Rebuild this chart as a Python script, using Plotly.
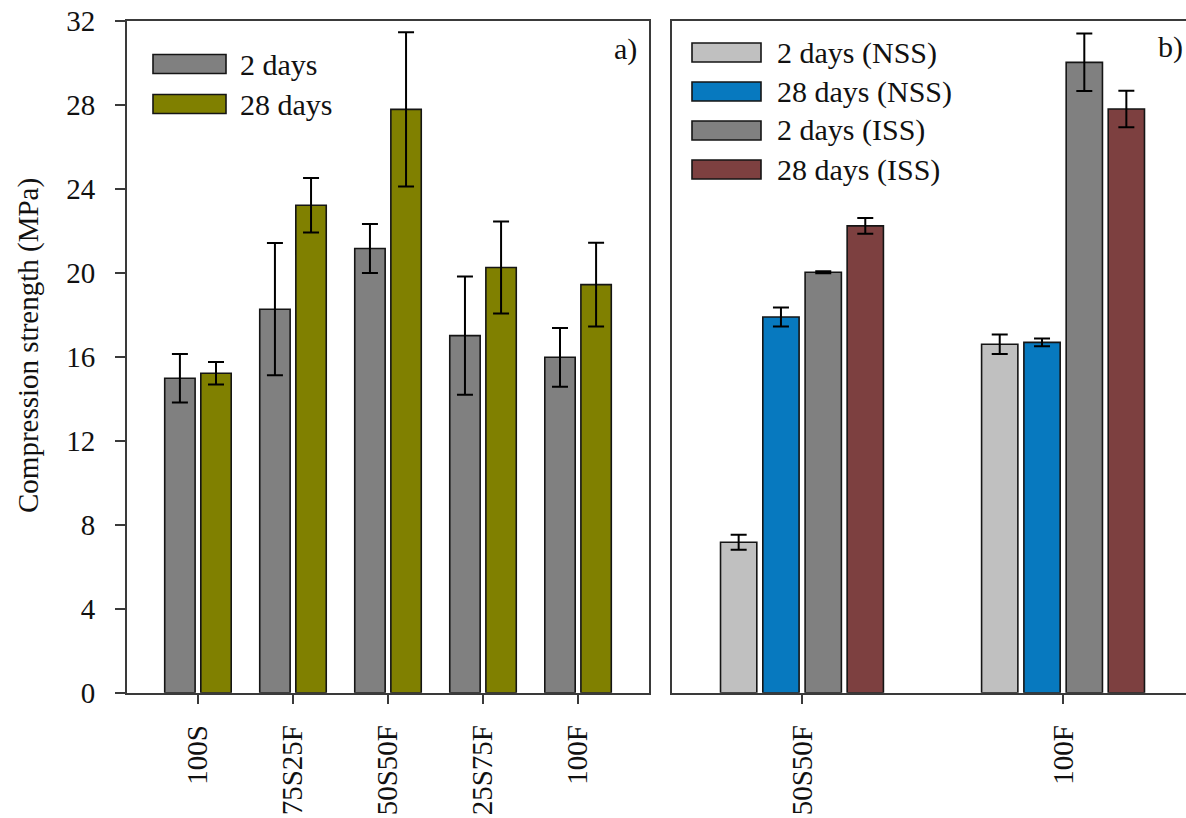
import plotly.graph_objects as go

# ---- data -------------------------------------------------------------
# panel a) : mixes cured 2 and 28 days
mixes_a = ["100S", "75S25F", "50S50F", "25S75F", "100F"]
days2 = [14.98, 18.27, 21.16, 17.01, 15.98]
days2_err = [1.15, 3.15, 1.17, 2.82, 1.40]
days28 = [15.22, 23.22, 27.79, 20.26, 19.44]
days28_err = [0.54, 1.30, 3.67, 2.19, 2.00]

# panel b) : NSS vs ISS activation
mixes_b = ["50S50F", "100F"]
nss2 = [7.17, 16.60]
nss2_err = [0.36, 0.47]
nss28 = [17.90, 16.69]
nss28_err = [0.45, 0.18]
iss2 = [20.03, 30.03]
iss2_err = [0.05, 1.37]
iss28 = [22.24, 27.81]
iss28_err = [0.38, 0.87]

y_ticks = [0, 4, 8, 12, 16, 20, 24, 28, 32]

# ---- styling ----------------------------------------------------------
W, H = 1186, 818
FONT = "Liberation Serif"
GRAY, OLIVE = "#808080", "#808000"
LGRAY, BLUE, MAROON = "#C0C0C0", "#0779BF", "#7D4040"
AX = "#3a3a3a"


def px(x):
    return x / W


def py(y):
    return 1 - y / H


fig = go.Figure()


def add_bars(xaxis, yaxis, cats, vals, errs, name, color, offset, width):
    fig.add_trace(go.Bar(
        x=cats, y=vals, name=name, xaxis=xaxis, yaxis=yaxis,
        offset=offset, width=width,
        marker=dict(color=color, line=dict(color="#151515", width=1.6)),
        error_y=dict(type="data", array=errs, visible=True,
                     color="#000000", thickness=2, width=8),
        showlegend=False,
    ))


series_a = [
    ("2 days", days2, days2_err, GRAY, -0.35),
    ("28 days", days28, days28_err, OLIVE, 0.03),
]
for name, vals, errs, color, off in series_a:
    add_bars("x", "y", mixes_a, vals, errs, name, color, off, 0.32)

series_b = [
    ("2 days (NSS)", nss2, nss2_err, LGRAY, -0.313),
    ("28 days (NSS)", nss28, nss28_err, BLUE, -0.151),
    ("2 days (ISS)", iss2, iss2_err, GRAY, 0.011),
    ("28 days (ISS)", iss28, iss28_err, MAROON, 0.172),
]
for name, vals, errs, color, off in series_b:
    add_bars("x2", "y2", mixes_b, vals, errs, name, color, off, 0.139)

ydom = [py(692.7), py(21)]
tickfont = dict(family=FONT, size=29, color="#111")

xcommon = dict(showline=True, linecolor=AX, linewidth=1.5, mirror=True,
               ticks="outside", ticklen=10, tickwidth=1.5, tickcolor=AX,
               tickangle=-90, tickfont=tickfont, showgrid=False,
               zeroline=False, automargin=False, type="category",
               ticklabelstandoff=9)

fig.update_layout(
    width=W, height=H,
    margin=dict(l=0, r=0, t=0, b=0),
    paper_bgcolor="white", plot_bgcolor="white",
    barmode="overlay",
    xaxis=dict(domain=[px(126.7), px(649.3)], range=[-0.75, 4.75],
               anchor="y", **xcommon),
    yaxis=dict(domain=ydom, range=[0, 32], tickvals=y_ticks,
               showline=True, linecolor=AX, linewidth=1.5, mirror=True,
               ticks="outside", ticklen=10, tickwidth=1.5, tickcolor=AX,
               tickfont=tickfont, showgrid=False, zeroline=False,
               automargin=False, anchor="x", ticklabelstandoff=14),
    xaxis2=dict(domain=[px(671.7), 1.0], range=[-0.5, 1.47],
                anchor="y2", **xcommon),
    yaxis2=dict(domain=ydom, range=[0, 32], showline=True, linecolor=AX,
                linewidth=1.5, mirror=False, ticks="", showticklabels=False,
                showgrid=False, zeroline=False, automargin=False,
                anchor="x2"),
    showlegend=False,
)

# ---- hand-drawn legends with wide swatches -----------------------------
shapes, annots = [], []
legend_font = dict(family=FONT, size=30, color="#111")


def legend(entries, x0, x1, xtext, y_first, step, hh):
    for i, (name, _, _, color, _) in enumerate(entries):
        yc = y_first + i * step
        shapes.append(dict(type="rect", xref="paper", yref="paper",
                           x0=px(x0), x1=px(x1), y0=py(yc + hh), y1=py(yc - hh),
                           fillcolor=color,
                           line=dict(color="#151515", width=1.6)))
        annots.append(dict(xref="paper", yref="paper", x=px(xtext), y=py(yc),
                           text=name, showarrow=False, xanchor="left",
                           yanchor="middle", font=legend_font))


legend(series_a, 153, 226, 238, 64, 40, 9.5)
legend(series_b, 692, 761, 775, 52.5, 39, 9.5)

# panel letters
annots.append(dict(xref="paper", yref="paper", x=px(639), y=py(49), text="a)",
                   showarrow=False, xanchor="right", yanchor="middle",
                   font=legend_font))
annots.append(dict(xref="paper", yref="paper", x=px(1185), y=py(47), text="b)",
                   showarrow=False, xanchor="right", yanchor="middle",
                   font=legend_font))

# y axis title
annots.append(dict(xref="paper", yref="paper", x=px(28), y=py(346),
                   text="Compression strength (MPa)", textangle=-90,
                   showarrow=False, xanchor="center", yanchor="middle",
                   font=dict(family=FONT, size=29, color="#111")))

fig.update_layout(shapes=shapes, annotations=annots)

fig.write_html("out.html")
